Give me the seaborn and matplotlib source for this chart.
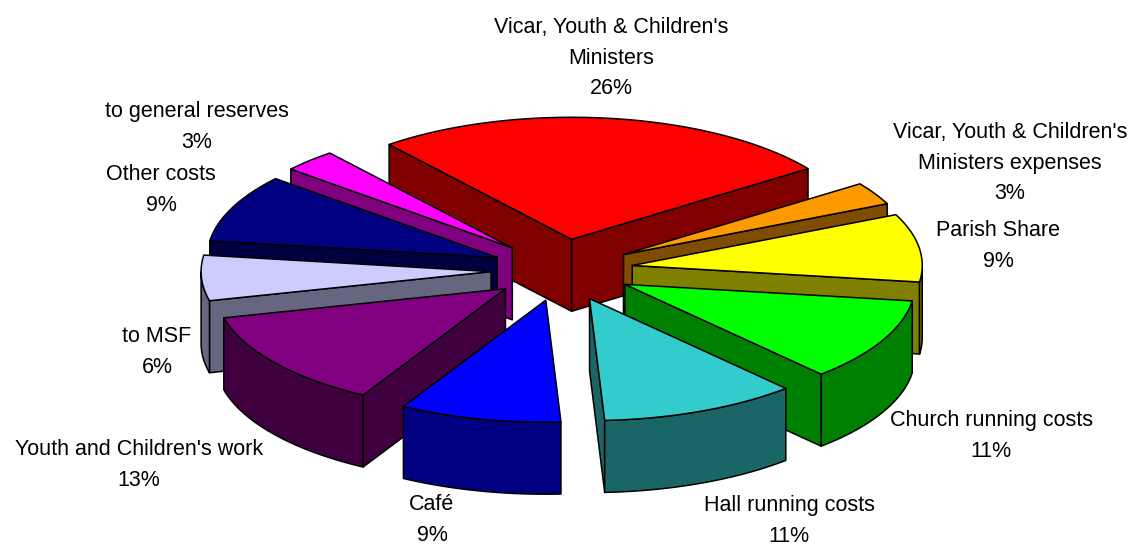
import numpy as np
import matplotlib
matplotlib.use("Agg")
import matplotlib.pyplot as plt
import seaborn as sns

# values, clockwise from the red slice
names = ["Vicar, Youth & Children's\nMinisters",
         "Vicar, Youth & Children's\nMinisters expenses",
         "Parish Share", "Church running costs", "Hall running costs",
         "Café", "Youth and Children's work", "to MSF", "Other costs",
         "to general reserves"]
shares = [26, 3, 9, 11, 11, 9, 13, 6, 9, 3]
top_colors = ["#FF0000", "#FF9900", "#FFFF00", "#00FF00", "#33CCCC",
              "#0000FF", "#800080", "#CCCCFF", "#000080", "#FF00FF"]
side_colors = ["#800000", "#804C00", "#808000", "#008000", "#1A6666",
               "#000080", "#400040", "#666680", "#000040", "#800080"]
label_xy = [(611, 58), (1010, 163), (998, 246), (991, 436), (789, 521),
            (432, 520), (139, 465), (157, 352), (161, 190), (197, 127)]

# pie geometry, in pixels
CX, CY = 562, 270
RX, RY = 290, 122
EX, EY = 71, 31
DEPTH = 72
START = -39

sns.set_theme(style="white")
plt.rcParams["font.family"] = ["Liberation Sans", "DejaVu Sans"]


def project(theta, r, mid):
    t = np.radians(theta)
    m = np.radians(mid)
    x = CX + EX * np.sin(m) + r * RX * np.sin(t)
    y = CY - EY * np.cos(m) - r * RY * np.cos(t)
    return x, y


def draw_slice(ax, a, b, top, side):
    mid = (a + b) / 2
    edge = dict(edgecolor="black", linewidth=1.1, joinstyle="round")
    ax0, ay0 = project(a, 0, mid)

    # radial walls, only when they face the viewer
    for ang, normal in [(a, a - 90), (b, b + 90)]:
        if np.cos(np.radians(normal)) < 0:
            x1, y1 = project(ang, 1, mid)
            ax.fill([ax0, x1, x1, ax0],
                    [ay0, y1, y1 + DEPTH, ay0 + DEPTH], color=side, **edge)

    # outer wall on the near half
    ts = np.linspace(a, b, 80)
    near = ts[np.cos(np.radians(ts)) < 0]
    if len(near) > 1:
        xs, ys = project(near, 1, mid)
        ax.fill(np.r_[xs, xs[::-1]], np.r_[ys, ys[::-1] + DEPTH],
                color=side, **edge)

    # top face
    xs, ys = project(ts, 1, mid)
    ax.fill(np.r_[ax0, xs], np.r_[ay0, ys], color=top, **edge)


def main():
    fig, ax = plt.subplots(figsize=(11.32, 5.45), dpi=100)
    fig.subplots_adjust(0, 0, 1, 1)
    ax.set_xlim(0, 1132)
    ax.set_ylim(545, 0)
    ax.axis("off")

    edges = START + np.r_[0, np.cumsum(shares)] * 3.6
    order = sorted(range(len(shares)),
                   key=lambda i: -np.cos(np.radians((edges[i] + edges[i + 1]) / 2)))
    for i in order:
        draw_slice(ax, edges[i], edges[i + 1], top_colors[i], side_colors[i])

    for name, share, (x, y) in zip(names, shares, label_xy):
        ax.text(x, y, f"{name}\n{share}%", ha="center", va="center",
                fontsize=15.5, linespacing=1.6, color="black")

    fig.savefig("out.png", dpi=100, facecolor="white")


if __name__ == "__main__":
    main()
